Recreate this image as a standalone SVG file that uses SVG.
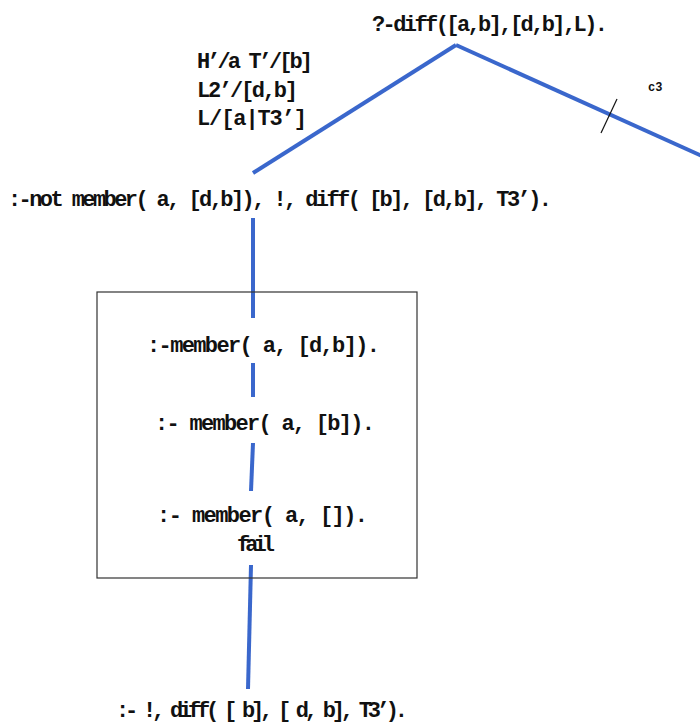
<svg xmlns="http://www.w3.org/2000/svg" width="700" height="724" viewBox="0 0 700 724">
  <style>
    .t { font-family: "Liberation Mono", "Courier New", monospace; font-weight: bold; font-size: 22px; fill: #111; }
    .s { font-family: "Liberation Mono", "Courier New", monospace; font-weight: bold; font-size: 12px; fill: #111; }
    .edge { stroke: #3a67cc; stroke-width: 4; fill: none; }
  </style>
  <rect width="700" height="724" fill="#fff"/>

  <!-- connectors -->
  <g id="connectors">
    <line class="edge" x1="456" y1="45" x2="253" y2="173"/>
    <line class="edge" x1="456" y1="45" x2="702" y2="156"/>
    <line x1="617" y1="99" x2="601" y2="133" stroke="#111" stroke-width="1.2"/>
    <line class="edge" x1="253" y1="218" x2="253" y2="318"/>
    <line class="edge" x1="253" y1="363" x2="253" y2="397"/>
    <line class="edge" x1="253" y1="443" x2="251" y2="491"/>
    <line class="edge" x1="251" y1="565" x2="248" y2="689"/>
  </g>

  <!-- root goal -->
  <g id="root">
    <text class="t" x="372" y="31" textLength="236" lengthAdjust="spacing">?-diff([a,b],[d,b],L).</text>
  </g>

  <!-- branch label -->
  <g id="c3">
    <text class="s" x="648" y="91">c3</text>
  </g>

  <!-- bindings -->
  <g id="bindings">
    <text class="t" x="197" y="68" textLength="116" lengthAdjust="spacing">H’/a T’/[b]</text>
    <text class="t" x="197" y="97" textLength="101" lengthAdjust="spacing">L2’/[d,b]</text>
    <text class="t" x="197" y="125" textLength="110" lengthAdjust="spacing">L/[a|T3’]</text>
  </g>

  <!-- first resolvent -->
  <g id="goal1">
    <text class="t" x="8" y="206" textLength="544" lengthAdjust="spacing">:-not member( a, [d,b]), !, diff( [b], [d,b], T3’).</text>
  </g>

  <!-- negation sub-proof -->
  <g id="notbox">
    <rect x="97" y="292" width="320" height="286" fill="none" stroke="#333" stroke-width="1.2"/>
  </g>
  <g id="member1">
    <text class="t" x="147" y="352" textLength="233" lengthAdjust="spacing">:-member( a, [d,b]).</text>
  </g>
  <g id="member2">
    <text class="t" x="155" y="430" textLength="220" lengthAdjust="spacing">:- member( a, [b]).</text>
  </g>
  <g id="member3">
    <text class="t" x="157" y="522" textLength="211" lengthAdjust="spacing">:- member( a, []).</text>
    <text class="t" x="237" y="551" textLength="38" lengthAdjust="spacing">fail</text>
  </g>

  <!-- continuation after cut -->
  <g id="goal2">
    <text class="t" x="116" y="717" textLength="292" lengthAdjust="spacing">:- !, diff( [ b], [ d, b], T3’).</text>
  </g>
</svg>
